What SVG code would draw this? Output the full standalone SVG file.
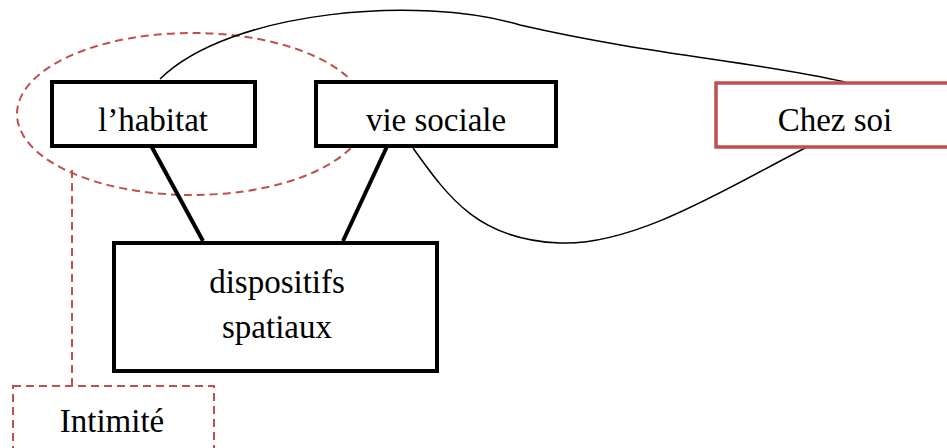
<svg xmlns="http://www.w3.org/2000/svg" width="947" height="448" viewBox="0 0 947 448">
<style>
.box{fill:#fff;stroke:#000;stroke-width:4}
.red{fill:#fff;stroke:#c0504d;stroke-width:3.5}
.dash{fill:none;stroke:#c0504d;stroke-width:2;stroke-dasharray:8,5}
.thick{fill:none;stroke:#000;stroke-width:4}
.thin{fill:none;stroke:#000;stroke-width:1.5}
text{font-family:"Liberation Serif","Times New Roman",serif;font-size:33px;fill:#000;text-anchor:middle}
</style>
<rect width="947" height="448" fill="#fff"/>
<g id="ellipse-intimite">
<ellipse class="dash" cx="192" cy="114" rx="175" ry="81"/>
<path class="dash" d="M72,170 V386"/>
</g>
<g id="connectors">
<path class="thin" d="M160,79 C230,10 420,-5 520,25 C650,55 760,62 845,82"/>
<path class="thin" d="M413,148 C450,200 480,240 560,243 C640,246 740,180 815,143"/>
<path class="thick" d="M148,140 L203,241"/>
<path class="thick" d="M390,140 L343,241"/>
</g>
<g id="habitat">
<rect class="box" x="52" y="82" width="203" height="64"/>
<text x="153" y="131">l’habitat</text>
</g>
<g id="vie-sociale">
<rect class="box" x="316" y="82" width="240" height="64"/>
<text x="436" y="131">vie sociale</text>
</g>
<g id="chez-soi">
<rect class="red" x="716" y="83" width="240" height="64"/>
<text x="835" y="131">Chez soi</text>
</g>
<g id="dispositifs">
<rect class="box" x="114" y="243" width="323" height="128"/>
<text x="277" y="293">dispositifs</text>
<text x="277" y="338">spatiaux</text>
</g>
<g id="intimite">
<rect class="dash" x="13" y="386" width="201" height="80"/>
<text x="112" y="432">Intimité</text>
</g>
</svg>
